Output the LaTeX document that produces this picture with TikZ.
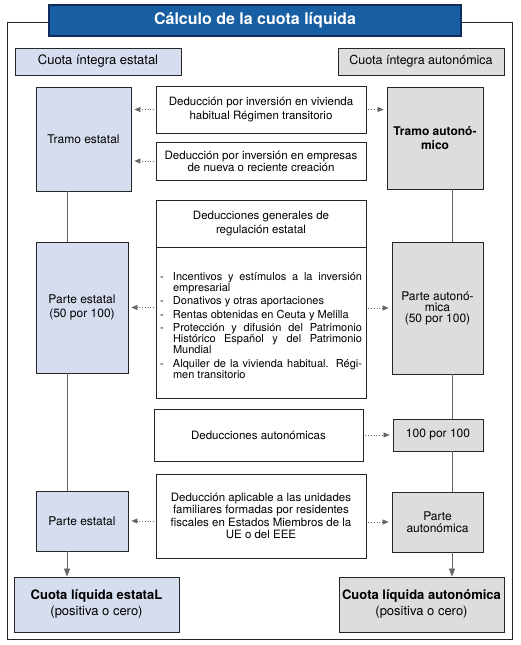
\documentclass[tikz,border=0pt]{standalone}
\usepackage{fontspec}
\setmainfont{TeX Gyre Heros}
\usetikzlibrary{arrows.meta}
\definecolor{azultitulo}{RGB}{24,94,163}
\definecolor{azuloscuro}{RGB}{16,44,92}
\definecolor{azulclaro}{RGB}{213,221,239}
\definecolor{grisclaro}{RGB}{221,221,221}
\newcommand{\guion}{\par\noindent\hangindent=13pt\hangafter=1\makebox[13pt][l]{-}}

\begin{document}
\begin{tikzpicture}[x=1pt,y=-1pt]
	\tikzstyle{caja}=[draw=black!85,line width=0.8pt,fill=white,align=center,inner sep=2pt,font=\fontsize{11.5}{13.5}\selectfont]
	\tikzstyle{estatal}=[caja,fill=azulclaro,font=\fontsize{12}{13.5}\selectfont]
	\tikzstyle{autonomica}=[caja,fill=grisclaro,font=\fontsize{12}{13.5}\selectfont]
	\tikzstyle{linea}=[draw=black!60,line width=0.7pt]
	\tikzstyle{punteada}=[linea,dotted,-{Triangle[length=6pt,width=5pt]},shorten <=2pt,shorten >=3pt]
	\tikzstyle{flecha}=[linea,-{Triangle[length=8pt,width=6pt]}]
	\useasboundingbox (0,0) rectangle (520,645);
	\draw [line width=0.8pt,draw=black!85] (7,22) rectangle (512,639);
	\coordinate (colE) at (67,0);
	\coordinate (colA) at (452,0);
	\begin{scope}
		% cabecera
		\node [caja,fill=azultitulo,draw=azuloscuro,line width=1.2pt,text=white,font=\fontsize{16}{18}\bfseries\selectfont,minimum width=412pt,minimum height=31pt] (titulo) at (255,20.5) {Cálculo de la cuota líquida};
		\node [estatal,font=\fontsize{13}{15}\selectfont,minimum width=166pt,minimum height=27pt] (cuotaE) at (98,61.5) {Cuota íntegra estatal};
		\node [autonomica,font=\fontsize{12.5}{15}\selectfont,minimum width=166pt,minimum height=27pt] (cuotaA) at (421,61.5) {Cuota íntegra autonómica};
		% columna estatal
		\node [estatal,minimum width=95pt,minimum height=104pt] (tramoE) at (83.5,139) {Tramo estatal};
		\node [estatal,minimum width=92pt,minimum height=131pt] (parteE) at (82,307.5) {Parte estatal\\(50 por 100)};
		\node [estatal,minimum width=92pt,minimum height=60pt] (parteE2) at (82,521) {Parte estatal};
		\node [estatal,font=\fontsize{13}{16}\selectfont,minimum width=165pt,minimum height=55pt] (liquidaE) at (96.5,604.5) {\textbf{Cuota líquida estataL}\\(positiva o cero)};
		% columna autonomica
		\node [autonomica,font=\fontsize{12}{13.5}\bfseries\selectfont,minimum width=96pt,minimum height=102pt] (tramoA) at (435,138) {Tramo autonó-\\mico};
		\node [autonomica,font=\fontsize{12}{11}\selectfont,minimum width=91pt,minimum height=132pt] (parteA) at (437.5,308) {Parte autonó-\\mica\\(50 por 100)};
		\node [autonomica,minimum width=90pt,minimum height=32pt] (cien) at (438,435) {100 por 100};
		\node [autonomica,font=\fontsize{12}{12}\selectfont,minimum width=91pt,minimum height=60pt] (parteA2) at (437.5,522) {Parte\\autonómica};
		\node [autonomica,font=\fontsize{13}{16}\selectfont,minimum width=165pt,minimum height=55pt] (liquidaA) at (421.5,604.5) {\textbf{Cuota líquida autonómica}\\(positiva o cero)};
		% deducciones
		\node [caja,minimum width=210pt,minimum height=47pt] (viv) at (261,109.5) {Deducción por inversión en vivienda\\habitual Régimen transitorio};
		\node [caja,font=\fontsize{11.5}{12}\selectfont,minimum width=210pt,minimum height=38pt] (emp) at (261,161) {Deducción por inversión en empresas\\de nueva o reciente creación};
		\node [caja,font=\fontsize{11.5}{14}\selectfont,minimum width=210pt,minimum height=47pt] (generales) at (261,223.5) {Deducciones generales de\\regulación estatal};
		\node [caja,align=justify,text width=202pt,inner xsep=4pt,minimum height=151pt,font=\fontsize{11}{11}\selectfont] (lista) at (261,322.5) {\lineskiplimit=-20pt\parskip=2.5pt
			\guion Incentivos y estímulos a la inversión empresarial
			\guion Donativos y otras aportaciones
			\guion Rentas obtenidas en Ceuta y Melilla
			\guion Protección y difusión del Patrimonio\linebreak Histórico Español y del Patrimonio\linebreak Mundial
			\guion Alquiler de la vivienda habitual. Régi-\linebreak men transitorio\par};
		\node [caja,minimum width=209pt,minimum height=52pt] (dedaut) at (258.5,435) {Deducciones autonómicas};
		\node [caja,font=\fontsize{11.5}{12.5}\selectfont,minimum width=210pt,minimum height=84pt] (ue) at (261,516) {Deducción aplicable a las unidades\\familiares formadas por residentes\\fiscales en Estados Miembros de la\\UE o del EEE};
		% lineas verticales
		\draw [linea] (tramoE.south -| colE) -- (parteE.north -| colE);
		\draw [linea] (parteE.south -| colE) -- (parteE2.north -| colE);
		\draw [flecha] (parteE2.south -| colE) -- (liquidaE.north -| colE);
		\draw [linea] (tramoA.south -| colA) -- (parteA.north -| colA);
		\draw [linea] (parteA.south -| colA) -- (cien.north -| colA);
		\draw [linea] (cien.south -| colA) -- (parteA2.north -| colA);
		\draw [flecha] (parteA2.south -| colA) -- (liquidaA.north -| colA);
		% flechas punteadas
		\draw [punteada] (viv.west) -- (viv.west -| tramoE.east);
		\draw [punteada] (viv.east) -- (viv.east -| tramoA.west);
		\draw [punteada] (emp.west) -- (emp.west -| tramoE.east);
		\draw [punteada] (lista.west |- parteE.east) -- (parteE.east);
		\draw [punteada] (lista.east |- parteA.west) -- (parteA.west);
		\draw [punteada] (dedaut.east) -- (cien.west);
		\draw [punteada] (ue.west |- parteE2.east) -- (parteE2.east);
		\draw [punteada] (ue.east |- parteA2.west) -- (parteA2.west);
	\end{scope}
\end{tikzpicture}
\end{document}
